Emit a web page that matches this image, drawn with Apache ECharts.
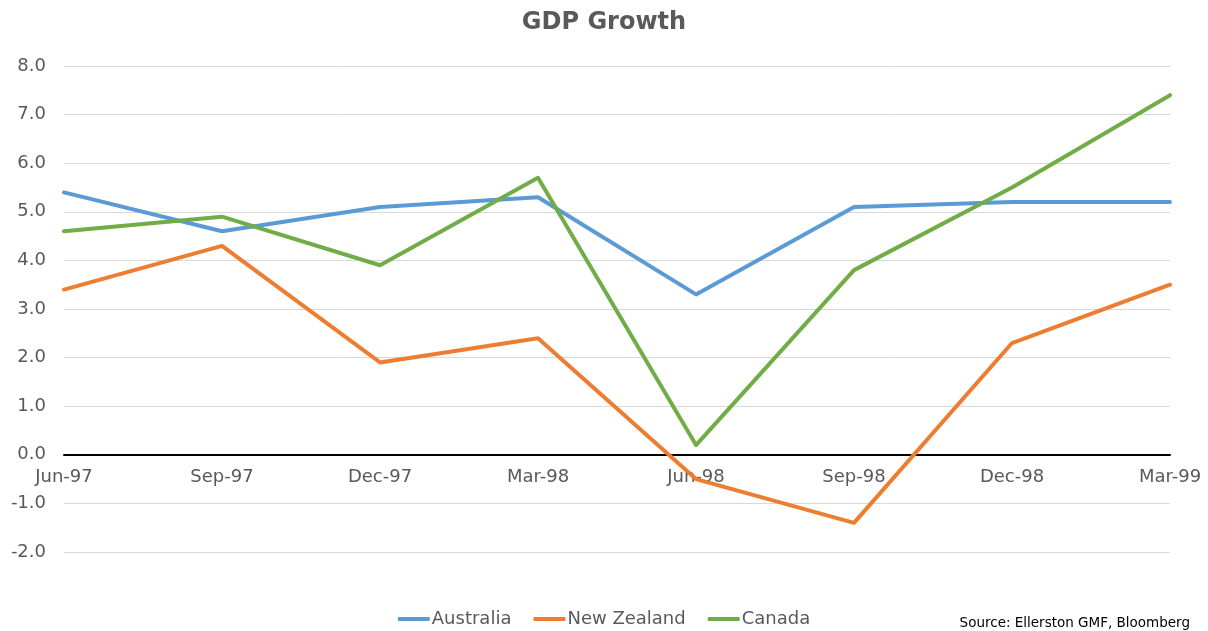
<!DOCTYPE html>
<html>
<head>
<meta charset="utf-8">
<script src="https://cdn.jsdelivr.net/npm/echarts@6/dist/echarts.min.js"></script>
<style>
  html, body { margin: 0; padding: 0; background: #fff; }
  #chart { width: 1208px; height: 631px; }
</style>
</head>
<body>
<div id="chart"></div>
<script>
// Quarterly GDP growth (%), Jun-97 to Mar-99
const quarters = ['Jun-97', 'Sep-97', 'Dec-97', 'Mar-98', 'Jun-98', 'Sep-98', 'Dec-98', 'Mar-99'];
const australia = [5.4, 4.6, 5.1, 5.3, 3.3, 5.1, 5.2, 5.2];
const newZealand = [3.4, 4.3, 1.9, 2.4, -0.5, -1.4, 2.3, 3.5];
const canada = [4.6, 4.9, 3.9, 5.7, 0.2, 3.8, 5.5, 7.4];
const yTicks = { min: -2, max: 8, step: 1 };

const FONT = 'DejaVu Sans';
const TEXT = '#595959';
const GRID = { left: 64, right: 38, top: 66, bottom: 79 };
const HEIGHT = 631;

const chart = echarts.init(document.getElementById('chart'));

function lineSeries(name, data, color) {
  return {
    name: name,
    type: 'line',
    data: data,
    symbol: 'none',
    lineStyle: { color: color, width: 4, cap: 'round', join: 'round' },
    itemStyle: { color: color },
    emphasis: { disabled: true },
    animation: false
  };
}

// The category axis sits on the zero line; its offset is derived from the y scale
const plotH = HEIGHT - GRID.top - GRID.bottom;
const zeroShift = plotH * (0 - yTicks.min) / (yTicks.max - yTicks.min);

chart.setOption({
  animation: false,
  title: {
    text: 'GDP Growth',
    left: 'center',
    top: 6,
    textStyle: { fontFamily: FONT, fontSize: 24, fontWeight: 'bold', color: TEXT }
  },
  grid: Object.assign({ containLabel: false }, GRID),
  legend: {
    top: 605,
    left: 'center',
    icon: 'roundRect',
    itemWidth: 32,
    itemHeight: 4,
    itemGap: 22,
    textStyle: { fontFamily: FONT, fontSize: 18, color: TEXT, padding: [0, 0, 0, -3] },
    data: ['Australia', 'New Zealand', 'Canada']
  },
  xAxis: {
    type: 'category',
    data: quarters,
    boundaryGap: false,
    offset: -zeroShift,
    axisLine: { onZero: false, lineStyle: { color: '#000', width: 2 } },
    axisTick: { show: false },
    axisLabel: { fontFamily: FONT, fontSize: 18, color: TEXT, margin: 14 },
    splitLine: { show: false }
  },
  yAxis: {
    type: 'value',
    min: yTicks.min,
    max: yTicks.max,
    interval: yTicks.step,
    axisLine: { show: false },
    axisTick: { show: false },
    axisLabel: {
      fontFamily: FONT, fontSize: 18, color: TEXT, margin: 18,
      formatter: v => v.toFixed(1)
    },
    splitLine: { lineStyle: { color: '#d9d9d9', width: 1 } }
  },
  graphic: [{
    type: 'text',
    right: 18,
    bottom: 1,
    style: {
      text: 'Source: Ellerston GMF, Bloomberg',
      font: '13.5px "DejaVu Sans"',
      fill: '#000'
    }
  }],
  series: [
    lineSeries('Australia', australia, '#5B9BD5'),
    lineSeries('New Zealand', newZealand, '#ED7D31'),
    lineSeries('Canada', canada, '#70AD47')
  ]
});
</script>
</body>
</html>
